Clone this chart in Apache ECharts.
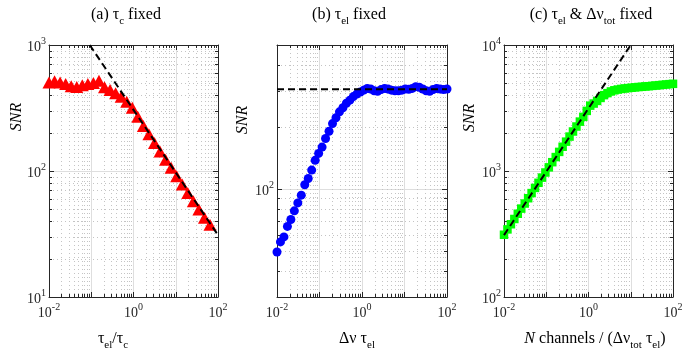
<!DOCTYPE html>
<html><head><meta charset="utf-8">
<script src="https://cdn.jsdelivr.net/npm/echarts@6/dist/echarts.min.js"></script>
<style>html,body{margin:0;padding:0;background:#fff}#c{width:695px;height:355px}</style>
</head><body><div id="c"></div>
<script>
// ---------- data ----------
// (a) tau_c fixed : x = tau_el / tau_c
const aX = [0.0100,0.01353,0.01831,0.02478,0.03354,0.04539,0.06143,0.08312,0.1125,0.1523,
            0.2061,0.2789,0.3774,0.5108,0.6912,0.9355,1.266,1.713,2.319,3.138,
            4.246,5.746,7.777,10.52,14.24,19.28,26.09,35.30,47.78,64.66];
const aSNR = [505,515,505,490,470,465,480,490,500,520,
              462,440,415,388,355,318,270,228,196,167,
              143,123,106,91,78,67,57.5,49.5,42.5,37.5];
const aLineX = [0.092, 100];
const aLineY = [1000, 31];

// (b) tau_el fixed : x = delta_nu * tau_el
const bX = [0.0100,0.01207,0.01456,0.01758,0.02121,0.02560,0.03089,0.03728,0.04498,0.05429,
            0.06551,0.07906,0.09541,0.1151,0.1389,0.1677,0.2024,0.2442,0.2947,0.3556,
            0.4292,0.5179,0.6251,0.7543,0.9103,1.099,1.326,1.600,1.931,2.330,
            2.812,3.393,4.095,4.942,5.964,7.197,8.685,10.48,12.65,15.26,
            18.42,22.23,26.83,32.37,39.07,47.15,56.90,68.66,82.86,100];
const bSNR = [49.6,55.5,58.7,66,71.3,78.5,85.8,93.5,105,112.7,
              123.7,138,149,160,176,191,208,222,237,248,
              261,270,281,289,296,302,308,306,300,298,
              304,308,306,302,300,300,302,306,305,308,
              314,312,306,300,298,304,308,306,304,306];
const bLineX = [0.01, 100];
const bLineY = [305, 305];

// (c) tau_el & delta_nu_tot fixed : x = N channels / (delta_nu_tot tau_el)
const cX = [0.0100,0.01207,0.01456,0.01758,0.02121,0.02560,0.03089,0.03728,0.04498,0.05429,
            0.06551,0.07906,0.09541,0.1151,0.1389,0.1677,0.2024,0.2442,0.2947,0.3556,
            0.4292,0.5179,0.6251,0.7543,0.9103,1.099,1.326,1.600,1.931,2.330,
            2.812,3.393,4.095,4.942,5.964,7.197,8.685,10.48,12.65,15.26,
            18.42,22.23,26.83,32.37,39.07,47.15,56.90,68.66,82.86,100];
const cSNR = [312,344,378,416,458,503,552,608,668,734,
              806,886,973,1069,1175,1290,1418,1557,1710,1876,
              2058,2255,2465,2690,3000,3300,3430,3600,3800,4000,
              4150,4280,4370,4430,4480,4520,4550,4580,4610,4640,
              4660,4690,4710,4740,4770,4800,4830,4860,4890,4920];
const cLineX = [0.01, 10];
const cLineY = [310, 10000];

// tick labels (powers of ten)
const xMajorExp = [-2, -1, 0, 1, 2];
const xLabelExp = [-2, 0, 2];
const aYMajorExp = [1, 2, 3];
const bYMajorExp = [2];
const cYMajorExp = [2, 3, 4];
const bYMinorVals = [40, 50, 60, 70, 80, 90, 200, 300, 400];

// ---------- chart ----------
const L = Math.log10;
const AX = '#262626';
const FONT = 'Liberation Serif';
function minorDecades(n0, n1) {
  const out = [];
  for (let n = n0; n < n1; n++) for (let k = 2; k <= 9; k++) out.push(n + L(k));
  return out;
}
const labelRich = {
  b: { fontSize: 14, fontFamily: FONT, color: AX, lineHeight: 18, verticalAlign: 'bottom' },
  s: { fontSize: 10, fontFamily: FONT, color: AX, lineHeight: 10, verticalAlign: 'top' }
};
const supFmt = v => '{b|10}{s|' + Math.round(v) + '}';

const panels = [
  { grid: { left: 49, top: 45, width: 169, height: 252 }, ymin: 1, ymax: 3,
    yMajor: aYMajorExp, yLabels: aYMajorExp, yMinor: minorDecades(1, 3),
    x: aX, y: aSNR, lx: aLineX, ly: aLineY, symbol: 'triangle', size: [13, 12], color: '#ff0000' },
  { grid: { left: 277, top: 45, width: 170, height: 252 }, ymin: L(30), ymax: L(500),
    yMajor: bYMajorExp, yLabels: bYMajorExp, yMinor: bYMinorVals.map(L),
    x: bX, y: bSNR, lx: bLineX, ly: bLineY, symbol: 'circle', size: 9, color: '#0000ff' },
  { grid: { left: 504, top: 45, width: 169, height: 252 }, ymin: 2, ymax: 4,
    yMajor: cYMajorExp, yLabels: cYMajorExp, yMinor: minorDecades(2, 4),
    x: cX, y: cSNR, lx: cLineX, ly: cLineY, symbol: 'rect', size: 8.5, color: '#00ff00' }
];
const xMinor = minorDecades(-2, 2);

const grids = [], xAxes = [], yAxes = [], series = [];
const minorGrid = { show: true, lineStyle: { color: '#c4c4c4', width: 1, type: [1, 3] } };
const majorGrid = { show: true, lineStyle: { color: '#dedede', width: 1 } };
panels.forEach((p, g) => {
  grids.push(Object.assign({ containLabel: false }, p.grid));
  const base = { gridIndex: g, type: 'value', axisLine: { show: false, onZero: false },
                 axisLabel: { show: false }, splitLine: { show: false } };
  // x axes
  xAxes.push(Object.assign({}, base, { min: -2, max: 2, position: 'bottom',
    axisLine: { show: true, onZero: false, lineStyle: { color: AX, width: 1 } },
    axisTick: { show: true, inside: true, length: 5, customValues: xMajorExp, lineStyle: { color: AX } },
    axisLabel: { show: true, customValues: xLabelExp, formatter: supFmt, rich: labelRich, margin: 5 },
    splitLine: majorGrid }));
  xAxes.push(Object.assign({}, base, { min: -2, max: 2, position: 'top',
    axisLine: { show: true, onZero: false, lineStyle: { color: AX, width: 1 } },
    axisTick: { show: true, inside: true, length: 5, customValues: xMajorExp, lineStyle: { color: AX } } }));
  xAxes.push(Object.assign({}, base, { min: -2, max: 2, position: 'bottom',
    axisTick: { show: true, inside: true, length: 3, customValues: xMinor, lineStyle: { color: AX } },
    splitLine: minorGrid }));
  xAxes.push(Object.assign({}, base, { min: -2, max: 2, position: 'top',
    axisTick: { show: true, inside: true, length: 3, customValues: xMinor, lineStyle: { color: AX } } }));
  // y axes
  yAxes.push(Object.assign({}, base, { min: p.ymin, max: p.ymax, position: 'left',
    axisLine: { show: true, onZero: false, lineStyle: { color: AX, width: 1 } },
    axisTick: { show: true, inside: true, length: 5, customValues: p.yMajor, lineStyle: { color: AX } },
    axisLabel: { show: true, customValues: p.yLabels, formatter: supFmt, rich: labelRich, margin: 3 },
    splitLine: majorGrid }));
  yAxes.push(Object.assign({}, base, { min: p.ymin, max: p.ymax, position: 'right',
    axisLine: { show: true, onZero: false, lineStyle: { color: AX, width: 1 } },
    axisTick: { show: true, inside: true, length: 5, customValues: p.yMajor, lineStyle: { color: AX } } }));
  yAxes.push(Object.assign({}, base, { min: p.ymin, max: p.ymax, position: 'left',
    axisTick: { show: true, inside: true, length: 3, customValues: p.yMinor, lineStyle: { color: AX } },
    splitLine: minorGrid }));
  yAxes.push(Object.assign({}, base, { min: p.ymin, max: p.ymax, position: 'right',
    axisTick: { show: true, inside: true, length: 3, customValues: p.yMinor, lineStyle: { color: AX } } }));

  series.push({ type: 'scatter', xAxisIndex: 4 * g, yAxisIndex: 4 * g, clip: false, z: 3,
    symbol: p.symbol, symbolSize: p.size, itemStyle: { color: p.color, opacity: 1 },
    data: p.x.map((v, i) => [L(v), L(p.y[i])]) });
  series.push({ type: 'line', xAxisIndex: 4 * g, yAxisIndex: 4 * g, z: 4, showSymbol: false,
    lineStyle: { color: '#000', width: 2, type: [7, 4] },
    data: p.lx.map((v, i) => [L(v), L(p.ly[i])]) });
});

const tRich = {
  t: { fontSize: 16, fontFamily: FONT, color: '#000', lineHeight: 20, verticalAlign: 'top' },
  s: { fontSize: 11, fontFamily: FONT, color: '#000', lineHeight: 11, verticalAlign: 'bottom' },
  i: { fontSize: 16, fontFamily: FONT, color: '#000', lineHeight: 20, verticalAlign: 'top', fontStyle: 'italic' }
};
function txt(x, y, text, rot) {
  return { type: 'text', x: x, y: y, rotation: rot || 0, z: 10,
    style: { text: text, rich: tRich, align: 'center', verticalAlign: 'middle',
             fontSize: 16, fontFamily: FONT, fill: '#000' } };
}
const graphics = [
  txt(126, 17, '{t|(a) τ}{s|c}{t| fixed}'),
  txt(349, 17, '{t|(b) τ}{s|el}{t| fixed}'),
  txt(591, 17, '{t|(c) τ}{s|el}{t| & Δν}{s|tot}{t| fixed}'),
  txt(113, 341, '{t|τ}{s|el}{t|/τ}{s|c}'),
  txt(357, 341, '{t|Δν τ}{s|el}'),
  txt(595, 341, '{i|N}{t| channels / (Δν}{s|tot}{t| τ}{s|el}{t|)}'),
  txt(19, 117, '{i|SNR}', Math.PI / 2),
  txt(245, 120, '{i|SNR}', Math.PI / 2),
  txt(472, 118, '{i|SNR}', Math.PI / 2)
];

const chart = echarts.init(document.getElementById('c'), null, { renderer: 'canvas' });
chart.setOption({
  animation: false,
  backgroundColor: '#ffffff',
  grid: grids, xAxis: xAxes, yAxis: yAxes, series: series, graphic: graphics
});
</script></body></html>
